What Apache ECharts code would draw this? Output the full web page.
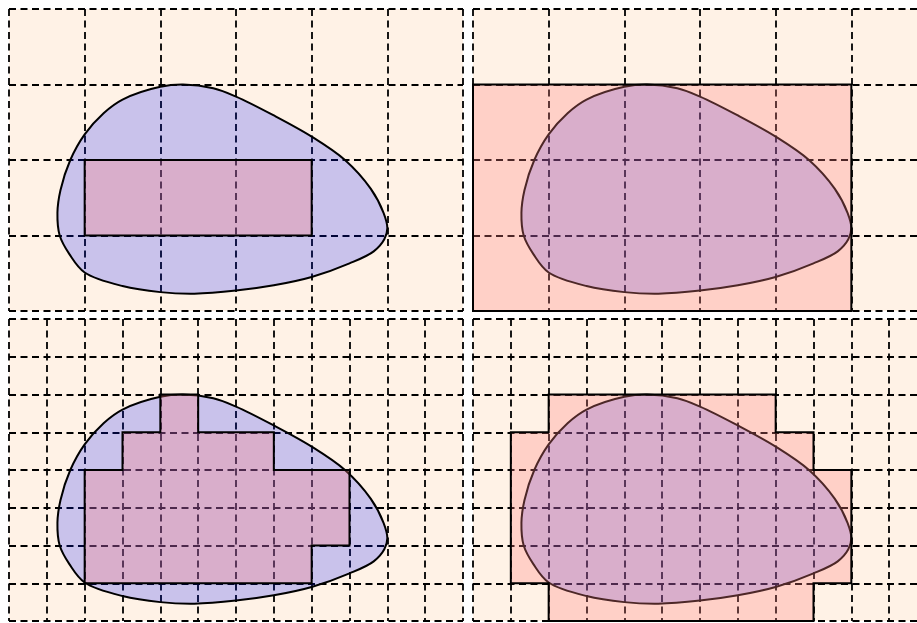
<!DOCTYPE html>
<html>
<head>
<meta charset="utf-8">
<script src="https://cdn.jsdelivr.net/npm/echarts@6/dist/echarts.min.js"></script>
<style>html,body{margin:0;padding:0;background:#fff;overflow:hidden;}#c{width:940px;height:623px;}</style>
</head>
<body>
<div id="c"></div>
<script>
// Blob outline (grid units, y up)
const blobPoints = [
  [2.0, 2.97], [2.3, 3.0], [2.7, 2.95], [3.0, 2.84], [3.5, 2.59], [4.0, 2.31],
  [4.44, 2.0], [4.78, 1.62], [4.95, 1.3], [5.0, 1.1], [4.96, 0.95], [4.82, 0.79],
  [4.5, 0.63], [4.0, 0.45], [3.5, 0.34], [3.0, 0.27], [2.45, 0.23], [2.0, 0.25],
  [1.5, 0.33], [1.0, 0.51], [0.8, 0.75], [0.67, 1.0], [0.64, 1.3], [0.68, 1.6],
  [0.81, 2.0], [1.0, 2.34], [1.25, 2.62], [1.5, 2.8]
];
// Approximations
const innerCoarse = [[1, 1], [4, 1], [4, 2], [1, 2]];
const outerCoarse = [[0, 0], [5, 0], [5, 3], [0, 3]];
const innerFine = [[1, 0.5], [1, 2], [1.5, 2], [1.5, 2.5], [2, 2.5], [2, 3], [2.5, 3], [2.5, 2.5],
  [3.5, 2.5], [3.5, 2], [4.5, 2], [4.5, 1], [4, 1], [4, 0.5]];
const outerFine = [[1, 0], [1, 0.5], [0.5, 0.5], [0.5, 2.5], [1, 2.5], [1, 3], [4, 3], [4, 2.5],
  [4.5, 2.5], [4.5, 2], [5, 2], [5, 0.5], [4.5, 0.5], [4.5, 0]];
const xRange = [0, 6];
const yRange = [0, 4];
const coarseStep = 1;
const fineStep = 0.5;

const BG = '#fff2e6';
const BLOB_FILL = 'rgba(0,20,255,0.21)';
const RECT_FILL = 'rgba(255,129,130,0.3)';

const panels = [
  {left: 9, top: 9, step: coarseStep, approx: innerCoarse},
  {left: 473, top: 9, step: coarseStep, approx: outerCoarse},
  {left: 9, top: 319, step: fineStep, approx: innerFine},
  {left: 473, top: 319, step: fineStep, approx: outerFine}
];

const W = 454, H = 302;
const grid = [], xAxis = [], yAxis = [], series = [];
const dash = {color: '#000', width: 1.8, type: [7, 4.5]};

// closed centripetal Catmull-Rom spline through pixel points -> SVG path
function closedSpline(px) {
  const n = px.length, a = 0.5;
  const dist = (p, q) => Math.pow(Math.hypot(q[0] - p[0], q[1] - p[1]), a);
  let d = 'M' + px[0][0] + ' ' + px[0][1];
  for (let i = 0; i < n; i++) {
    const p0 = px[(i - 1 + n) % n], p1 = px[i], p2 = px[(i + 1) % n], p3 = px[(i + 2) % n];
    const d1 = dist(p0, p1), d2 = dist(p1, p2), d3 = dist(p2, p3);
    const c1 = [0, 1].map(k => (d1 * d1 * p2[k] - d2 * d2 * p0[k] + (2 * d1 * d1 + 3 * d1 * d2 + d2 * d2) * p1[k]) / (3 * d1 * (d1 + d2)));
    const c2 = [0, 1].map(k => (d3 * d3 * p1[k] - d2 * d2 * p3[k] + (2 * d3 * d3 + 3 * d3 * d2 + d2 * d2) * p2[k]) / (3 * d3 * (d3 + d2)));
    d += ' C' + c1[0] + ' ' + c1[1] + ' ' + c2[0] + ' ' + c2[1] + ' ' + p2[0] + ' ' + p2[1];
  }
  return d + ' Z';
}

function blobSeries(i) {
  return {
    type: 'custom', xAxisIndex: i, yAxisIndex: i, z: 2, silent: true,
    data: blobPoints,
    renderItem: function (params, api) {
      if (params.dataIndex !== 0) return null;
      const px = blobPoints.map(p => api.coord(p));
      return {
        type: 'path',
        shape: {pathData: closedSpline(px)},
        style: {fill: BLOB_FILL, stroke: '#000', lineWidth: 2}
      };
    }
  };
}

function polySeries(i, pts) {
  return {
    type: 'custom', xAxisIndex: i, yAxisIndex: i, z: 3, silent: true,
    data: pts,
    renderItem: function (params, api) {
      if (params.dataIndex !== 0) return null;
      return {
        type: 'polygon',
        shape: {points: pts.map(p => api.coord(p))},
        style: {fill: RECT_FILL, stroke: '#000', lineWidth: 2, lineJoin: 'miter'}
      };
    }
  };
}

panels.forEach((p, i) => {
  grid.push({left: p.left, top: p.top, width: W, height: H, show: true,
    backgroundColor: BG, borderWidth: 0, containLabel: false});
  xAxis.push({type: 'value', gridIndex: i, min: xRange[0], max: xRange[1], interval: p.step,
    axisLine: {show: false}, axisTick: {show: false}, axisLabel: {show: false},
    splitLine: {show: true, showMinLine: true, showMaxLine: true, lineStyle: dash}});
  yAxis.push({type: 'value', gridIndex: i, min: yRange[0], max: yRange[1], interval: p.step,
    axisLine: {show: false}, axisTick: {show: false}, axisLabel: {show: false},
    splitLine: {show: true, showMinLine: true, showMaxLine: true, lineStyle: dash}});
  series.push(blobSeries(i));
  series.push(polySeries(i, p.approx));
});

const chart = echarts.init(document.getElementById('c'), null, {renderer: 'canvas'});
chart.setOption({animation: false, backgroundColor: '#fff', grid, xAxis, yAxis, series});
</script>
</body>
</html>
